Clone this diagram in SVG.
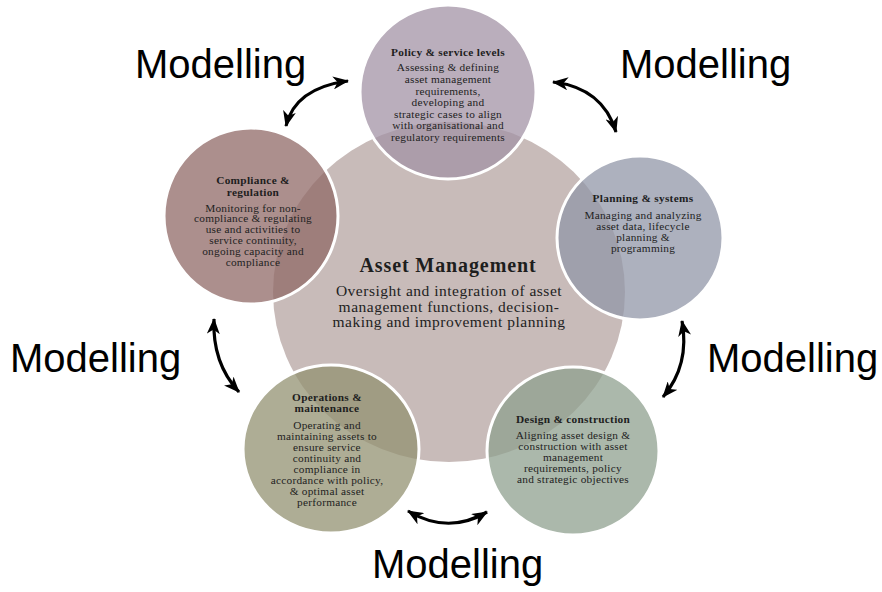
<svg xmlns="http://www.w3.org/2000/svg" width="882" height="592" viewBox="0 0 882 592">
<defs>
<style>
.bg{fill:#ffffff}
.outer{stroke:#ffffff;stroke-width:3;fill-opacity:0.75}
.ttl{font-family:"Liberation Serif",serif;font-weight:bold;font-size:11.3px;letter-spacing:0.3px;fill:#1e1e1e;text-anchor:middle}
.body{font-family:"Liberation Serif",serif;font-size:11.3px;letter-spacing:0.25px;fill:#222222;text-anchor:middle}
.mttl{font-family:"Liberation Serif",serif;font-weight:bold;font-size:20px;letter-spacing:0.9px;fill:#1e1e1e;text-anchor:middle}
.mbody{font-family:"Liberation Serif",serif;font-size:15.5px;letter-spacing:0.5px;fill:#222222;text-anchor:middle}
.lbl{font-family:"Liberation Sans",Arial,sans-serif;font-size:40px;fill:#000000}
.arr{fill:none;stroke:#000000;stroke-width:3.2;marker-start:url(#head);marker-end:url(#head)}
</style>
<marker id="head" markerUnits="userSpaceOnUse" viewBox="0 0 16 13" markerWidth="16" markerHeight="13" refX="15" refY="6.5" orient="auto-start-reverse">
<path d="M0,0 L16,6.5 L0,13 L4.5,6.5 z" fill="#000000"/>
</marker>
</defs>
<rect class="bg" x="0" y="0" width="882" height="592"/>

<g id="asset-management">
<ellipse cx="449" cy="292" rx="176" ry="170" fill="#c8bbb9"/>
</g>

<g id="policy">
<ellipse class="outer" cx="448" cy="92" rx="88" ry="87" fill="#a393a6"/>
<text class="ttl" x="448" y="56">Policy &amp; service levels</text>
<text class="body" x="448" y="71">Assessing &amp; defining</text>
<text class="body" x="448" y="83">asset management</text>
<text class="body" x="448" y="94.5">requirements,</text>
<text class="body" x="448" y="106">developing and</text>
<text class="body" x="448" y="117.5">strategic cases to align</text>
<text class="body" x="448" y="129">with organisational and</text>
<text class="body" x="448" y="140.5">regulatory requirements</text>
</g>

<g id="compliance">
<ellipse class="outer" cx="251" cy="216" rx="87" ry="88" fill="#906a67"/>
<text class="ttl" x="253" y="184">Compliance &amp;</text>
<text class="ttl" x="253" y="195.5">regulation</text>
<text class="body" x="253" y="211.5">Monitoring for non-</text>
<text class="body" x="253" y="222">compliance &amp; regulating</text>
<text class="body" x="253" y="233">use and activities to</text>
<text class="body" x="253" y="244">service continuity,</text>
<text class="body" x="253" y="255">ongoing capacity and</text>
<text class="body" x="253" y="266">compliance</text>
</g>

<g id="planning">
<ellipse class="outer" cx="640" cy="238" rx="83" ry="82" fill="#9297a8"/>
<text class="ttl" x="643" y="202">Planning &amp; systems</text>
<text class="body" x="643" y="219">Managing and analyzing</text>
<text class="body" x="643" y="230">asset data, lifecycle</text>
<text class="body" x="643" y="241">planning &amp;</text>
<text class="body" x="643" y="252">programming</text>
</g>

<g id="operations">
<ellipse class="outer" cx="331" cy="449" rx="88" ry="84" fill="#939272"/>
<text class="ttl" x="327" y="401">Operations &amp;</text>
<text class="ttl" x="327" y="412">maintenance</text>
<text class="body" x="327" y="428.5">Operating and</text>
<text class="body" x="327" y="439.5">maintaining assets to</text>
<text class="body" x="327" y="450.5">ensure service</text>
<text class="body" x="327" y="461.5">continuity and</text>
<text class="body" x="327" y="472.5">compliance in</text>
<text class="body" x="327" y="483.5">accordance with policy,</text>
<text class="body" x="327" y="494.5">&amp; optimal asset</text>
<text class="body" x="327" y="505.5">performance</text>
</g>

<g id="design">
<ellipse class="outer" cx="573" cy="451" rx="86" ry="84" fill="#8fa08f"/>
<text class="ttl" x="573" y="423">Design &amp; construction</text>
<text class="body" x="573" y="438.5">Aligning asset design &amp;</text>
<text class="body" x="573" y="449.5">construction with asset</text>
<text class="body" x="573" y="460.5">management</text>
<text class="body" x="573" y="471.5">requirements, policy</text>
<text class="body" x="573" y="482.5">and strategic objectives</text>
</g>

<g id="center-text">
<text class="mttl" x="448" y="272">Asset Management</text>
<text class="mbody" x="449" y="296">Oversight and integration of asset</text>
<text class="mbody" x="449" y="311.5">management functions, decision-</text>
<text class="mbody" x="449" y="327">making and improvement planning</text>
</g>

<g id="connectors">
<path class="arr" d="M286,126 Q295,88 348,81"/>
<path class="arr" d="M553,82 Q603,88 616,132"/>
<path class="arr" d="M214,319 Q212,363 239,392"/>
<path class="arr" d="M682,321 Q690,365 663,397"/>
<path class="arr" d="M408,511 Q448,535 487,512"/>
</g>

<g id="labels">
<text class="lbl" x="135" y="78">Modelling</text>
<text class="lbl" x="620" y="78">Modelling</text>
<text class="lbl" x="10" y="372">Modelling</text>
<text class="lbl" x="707" y="372">Modelling</text>
<text class="lbl" x="372" y="578">Modelling</text>
</g>
</svg>
